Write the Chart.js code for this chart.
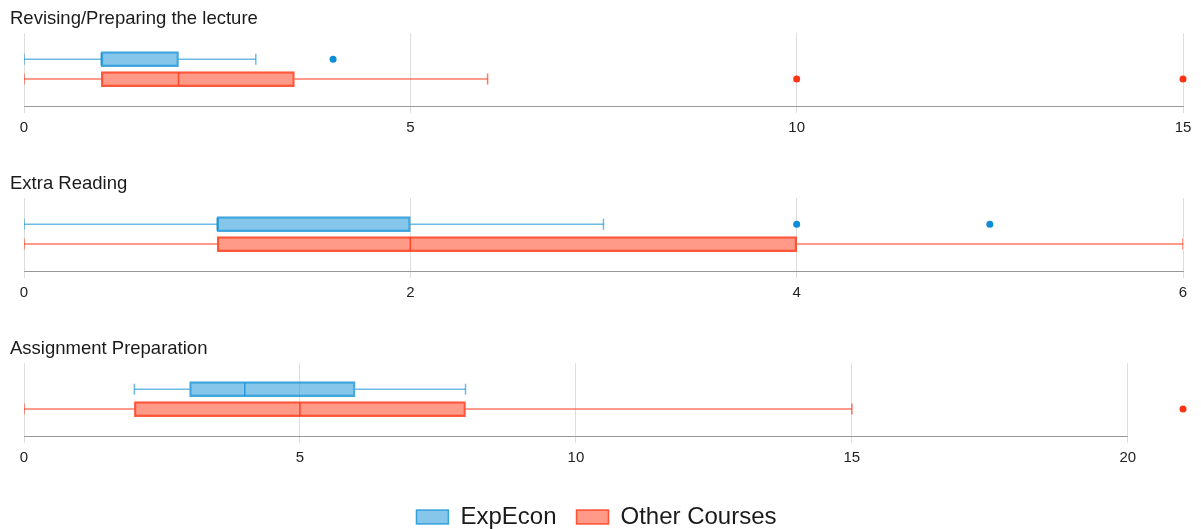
<!DOCTYPE html>
<html lang="en">
  <head>
    <meta charset="utf-8">
    <title>Hours per week</title>
    <script src="https://cdn.jsdelivr.net/npm/chart.js@4.4.1/dist/chart.umd.min.js"></script>
    <style>
      html, body { margin: 0; padding: 0; background: #fff; overflow: hidden; }
      div.main { position: relative; width: 1201px; height: 529px; overflow: hidden; }
      div.main canvas { position: absolute; left: 0; }
    </style>
  </head>
  <body>
    <div class="main">
      <canvas id="panel-0" width="1201" height="143" style="top: 0px"></canvas>
      <canvas id="panel-1" width="1201" height="143" style="top: 165px"></canvas>
      <canvas id="panel-2" width="1201" height="209" style="top: 330px"></canvas>
    </div>
    <script>
      var groups = ['ExpEcon', 'Other Courses'];
      var panelTitles = ['Revising/Preparing the lecture', 'Extra Reading', 'Assignment Preparation'];

      // [min, q1, median, q3, max] for each panel
      var expEconStats = [[0, 1, 1, 2, 3], [0, 1, 1, 2, 3], [2, 3, 4, 6, 8]];
      var otherStats = [[0, 1, 2, 3.5, 6], [0, 1, 2, 4, 6], [0, 2, 5, 8, 15]];
      var expEconOutliers = [[4], [4, 5], []];
      var otherOutliers = [[10, 15], [], [21]];

      var axisMax = [15, 6, 21];
      var tickStep = [5, 2, 5];

      var colors = [
        { fill: 'rgba(12, 141, 214, 0.5)', line: 'rgba(12, 141, 214, 0.75)', whisker: 'rgba(12, 141, 214, 0.6)', dot: 'rgb(12, 141, 214)' },
        { fill: 'rgba(255, 52, 18, 0.5)', line: 'rgba(255, 52, 18, 0.8)', whisker: 'rgba(255, 52, 18, 0.65)', dot: 'rgb(255, 52, 18)' }
      ];
      var family = "'Liberation Sans', Arial, sans-serif";

      // axis line that stops at the last tick instead of the chart edge
      var baseline = {
        id: 'baseline',
        beforeDatasetsDraw: function (chart) {
          var x = chart.scales.x, ctx = chart.ctx;
          var y = Math.round(chart.chartArea.bottom - 0.5) + 0.5;
          ctx.save();
          ctx.strokeStyle = '#999999';
          ctx.lineWidth = 1;
          ctx.beginPath();
          ctx.moveTo(x.getPixelForValue(x.min), y);
          ctx.lineTo(x.getPixelForValue(x.ticks[x.ticks.length - 1].value), y);
          ctx.stroke();
          ctx.restore();
        }
      };

      function panel_datasets(p) {
        var stats = [expEconStats[p], otherStats[p]];
        var outliers = [expEconOutliers[p], otherOutliers[p]];
        var boxes = [], whiskers = [], medians = [], dots = [];

        groups.forEach(function (g, row) {
          var s = stats[row], c = colors[row];
          boxes.push({
            type: 'bar', label: g, order: 1,
            data: [{ x: [s[1], s[3]], y: row }],
            backgroundColor: c.fill, borderColor: c.line, borderWidth: 1.5,
            borderSkipped: false, barThickness: 15, grouped: false
          });
          whiskers.push({
            type: 'line', label: g + ' whiskers', order: 2,
            data: [{ x: s[0], y: row }, { x: s[1], y: row }, { x: null, y: row },
                   { x: s[3], y: row }, { x: s[4], y: row }],
            borderColor: c.whisker, borderWidth: 1.5, spanGaps: false,
            pointStyle: 'line', pointRotation: 90,
            pointRadius: function (ctx) { return (ctx.dataIndex === 0 || ctx.dataIndex === 4) ? 5.5 : 0; },
            pointBorderColor: c.whisker, pointBorderWidth: 1.5
          });
          medians.push({
            type: 'line', label: g + ' median', order: 0, showLine: false,
            data: [{ x: s[2], y: row }],
            pointStyle: 'line', pointRotation: 90, pointRadius: 6.5,
            pointBorderColor: c.line, pointBorderWidth: 1.5
          });
          dots.push({
            type: 'line', label: g + ' outliers', order: 0, showLine: false, clip: false,
            data: outliers[row].map(function (v) { return { x: v, y: row }; }),
            pointRadius: 3.5, pointBackgroundColor: c.dot, pointBorderWidth: 0
          });
        });
        return boxes.concat(whiskers, medians, dots);
      }

      function create_panel(p) {
        var last = (p === panelTitles.length - 1);

        return new Chart(document.getElementById('panel-' + p), {
          data: { datasets: panel_datasets(p) },
          plugins: last ? [baseline] : [],
          options: {
            indexAxis: 'y',
            responsive: false,
            animation: false,
            layout: { padding: { left: 10, right: 18, top: 0, bottom: 0 } },
            scales: {
              x: {
                type: 'linear', min: 0, max: axisMax[p],
                ticks: { stepSize: tickStep[p], includeBounds: false, maxRotation: 0, padding: 6,
                         color: '#222', font: { family: family, size: 15 } },
                grid: { color: '#dddddd', tickLength: 7 },
                border: { display: !last, color: '#999999' },
                afterFit: function (scale) { if (last) scale.height += 12; }
              },
              y: {
                type: 'linear', reverse: true, offset: false, min: -1.3, max: 2.35,
                ticks: { display: false }, grid: { display: false }, border: { display: false },
                afterFit: function (scale) { scale.width = 14; }
              }
            },
            plugins: {
              title: {
                display: true, text: panelTitles[p], align: 'start',
                color: '#1a1a1a', font: { family: family, size: 18.5, weight: 'normal' },
                padding: { top: 8, bottom: 3 }
              },
              legend: {
                display: last, position: 'bottom',
                labels: {
                  filter: function (item) { return item.datasetIndex < groups.length; },
                  boxWidth: 32, boxHeight: 14, padding: 20,
                  color: '#1a1a1a', font: { family: family, size: 24 }
                }
              },
              tooltip: { enabled: false }
            }
          }
        });
      }

      var charts = panelTitles.map(function (t, i) { return create_panel(i); });
    </script>
  </body>
</html>
